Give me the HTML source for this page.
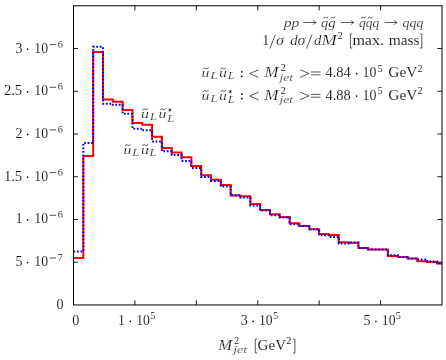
<!DOCTYPE html>
<html><head><meta charset="utf-8"><title>plot</title>
<style>
html,body{margin:0;padding:0;background:#fff;}
svg{display:block;}
text{font-family:"Liberation Serif",serif;fill:#111;stroke:#fff;stroke-width:0.1px;}
</style></head><body>
<svg width="446" height="360" viewBox="0 0 446 360">
<rect x="0" y="0" width="446" height="360" fill="#fff"/>
<path d="M73.50 257.90 L83.32 257.90 L83.32 156.10 L93.15 156.10 L93.15 51.95 L102.97 51.95 L102.97 99.50 L112.80 99.50 L112.80 101.80 L122.62 101.80 L122.62 110.00 L132.44 110.00 L132.44 122.90 L142.27 122.90 L142.27 124.70 L152.09 124.70 L152.09 136.70 L161.92 136.70 L161.92 148.00 L171.74 148.00 L171.74 152.60 L181.56 152.60 L181.56 157.30 L191.39 157.30 L191.39 166.10 L201.21 166.10 L201.21 175.30 L211.04 175.30 L211.04 179.80 L220.86 179.80 L220.86 184.90 L230.68 184.90 L230.68 195.40 L240.51 195.40 L240.51 196.30 L250.33 196.30 L250.33 204.00 L260.16 204.00 L260.16 209.90 L269.98 209.90 L269.98 214.30 L279.80 214.30 L279.80 216.90 L289.63 216.90 L289.63 223.30 L299.45 223.30 L299.45 225.90 L309.28 225.90 L309.28 229.20 L319.10 229.20 L319.10 233.90 L328.92 233.90 L328.92 235.00 L338.75 235.00 L338.75 242.30 L348.57 242.30 L348.57 242.80 L358.40 242.80 L358.40 247.90 L368.22 247.90 L368.22 249.60 L378.04 249.60 L378.04 249.60 L387.87 249.60 L387.87 255.90 L397.69 255.90 L397.69 256.90 L407.52 256.90 L407.52 258.60 L417.34 258.60 L417.34 261.20 L427.16 261.20 L427.16 261.90 L436.99 261.90 L436.99 263.50 L442.00 263.50" fill="none" stroke="#ff0000" stroke-width="2" stroke-linejoin="miter"/>
<path d="M73.50 251.50 L83.32 251.50 L83.32 143.10 L93.15 143.10 L93.15 46.80 L102.97 46.80 L102.97 103.70 L112.80 103.70 L112.80 104.80 L122.62 104.80 L122.62 113.70 L132.44 113.70 L132.44 128.70 L142.27 128.70 L142.27 130.30 L152.09 130.30 L152.09 141.50 L161.92 141.50 L161.92 151.30 L171.74 151.30 L171.74 154.90 L181.56 154.90 L181.56 161.00 L191.39 161.00 L191.39 168.10 L201.21 168.10 L201.21 177.00 L211.04 177.00 L211.04 181.10 L220.86 181.10 L220.86 186.60 L230.68 186.60 L230.68 195.30 L240.51 195.30 L240.51 197.40 L250.33 197.40 L250.33 205.40 L260.16 205.40 L260.16 210.60 L269.98 210.60 L269.98 215.30 L279.80 215.30 L279.80 217.60 L289.63 217.60 L289.63 224.30 L299.45 224.30 L299.45 225.90 L309.28 225.90 L309.28 229.20 L319.10 229.20 L319.10 235.30 L328.92 235.30 L328.92 236.90 L338.75 236.90 L338.75 243.40 L348.57 243.40 L348.57 242.50 L358.40 242.50 L358.40 247.90 L368.22 247.90 L368.22 249.60 L378.04 249.60 L378.04 249.60 L387.87 249.60 L387.87 255.20 L397.69 255.20 L397.69 256.90 L407.52 256.90 L407.52 258.60 L417.34 258.60 L417.34 259.50 L427.16 259.50 L427.16 261.50 L436.99 261.50 L436.99 263.30 L442.00 263.30" fill="none" stroke="#0000ff" stroke-width="2" stroke-dasharray="1.75 1.75" stroke-linejoin="miter"/>
<path d="M134.92 304.95 v-4.6 M134.92 5.80 v4.6 M196.33 304.95 v-4.6 M196.33 5.80 v4.6 M257.75 304.95 v-4.6 M257.75 5.80 v4.6 M319.17 304.95 v-4.6 M319.17 5.80 v4.6 M380.58 304.95 v-4.6 M380.58 5.80 v4.6 M73.50 262.21 h4.6 M442.00 262.21 h-4.6 M73.50 219.48 h4.6 M442.00 219.48 h-4.6 M73.50 176.74 h4.6 M442.00 176.74 h-4.6 M73.50 134.01 h4.6 M442.00 134.01 h-4.6 M73.50 91.27 h4.6 M442.00 91.27 h-4.6 M73.50 48.54 h4.6 M442.00 48.54 h-4.6" fill="none" stroke="#000" stroke-width="0.9"/>
<rect x="73.50" y="5.80" width="368.50" height="299.15" fill="none" stroke="#000" stroke-width="1"/>
<g style="filter:grayscale(1)">
<text x="15.40" y="52.60" font-size="14.00" text-anchor="start">3</text>
<circle cx="27.60" cy="49.10" r="0.85" fill="#111"/>
<text x="34.30" y="52.60" font-size="14.00" textLength="13.70" lengthAdjust="spacingAndGlyphs" text-anchor="start">10</text>
<line x1="49.50" y1="44.60" x2="56.20" y2="44.60" stroke="#111" stroke-width="0.70"/>
<text x="57.70" y="47.60" font-size="10.20" text-anchor="start">6</text>
<text x="3.90" y="95.30" font-size="14.00" textLength="18.30" lengthAdjust="spacingAndGlyphs" text-anchor="start">2.5</text>
<circle cx="27.60" cy="91.80" r="0.85" fill="#111"/>
<text x="34.30" y="95.30" font-size="14.00" textLength="13.70" lengthAdjust="spacingAndGlyphs" text-anchor="start">10</text>
<line x1="49.50" y1="87.30" x2="56.20" y2="87.30" stroke="#111" stroke-width="0.70"/>
<text x="57.70" y="90.30" font-size="10.20" text-anchor="start">6</text>
<text x="15.40" y="137.90" font-size="14.00" text-anchor="start">2</text>
<circle cx="27.60" cy="134.40" r="0.85" fill="#111"/>
<text x="34.30" y="137.90" font-size="14.00" textLength="13.70" lengthAdjust="spacingAndGlyphs" text-anchor="start">10</text>
<line x1="49.50" y1="129.90" x2="56.20" y2="129.90" stroke="#111" stroke-width="0.70"/>
<text x="57.70" y="132.90" font-size="10.20" text-anchor="start">6</text>
<text x="3.90" y="180.60" font-size="14.00" textLength="18.30" lengthAdjust="spacingAndGlyphs" text-anchor="start">1.5</text>
<circle cx="27.60" cy="177.10" r="0.85" fill="#111"/>
<text x="34.30" y="180.60" font-size="14.00" textLength="13.70" lengthAdjust="spacingAndGlyphs" text-anchor="start">10</text>
<line x1="49.50" y1="172.60" x2="56.20" y2="172.60" stroke="#111" stroke-width="0.70"/>
<text x="57.70" y="175.60" font-size="10.20" text-anchor="start">6</text>
<text x="15.40" y="223.30" font-size="14.00" text-anchor="start">1</text>
<circle cx="27.60" cy="219.80" r="0.85" fill="#111"/>
<text x="34.30" y="223.30" font-size="14.00" textLength="13.70" lengthAdjust="spacingAndGlyphs" text-anchor="start">10</text>
<line x1="49.50" y1="215.30" x2="56.20" y2="215.30" stroke="#111" stroke-width="0.70"/>
<text x="57.70" y="218.30" font-size="10.20" text-anchor="start">6</text>
<text x="15.40" y="266.00" font-size="14.00" text-anchor="start">5</text>
<circle cx="27.60" cy="262.50" r="0.85" fill="#111"/>
<text x="34.30" y="266.00" font-size="14.00" textLength="13.70" lengthAdjust="spacingAndGlyphs" text-anchor="start">10</text>
<line x1="49.50" y1="258.00" x2="56.20" y2="258.00" stroke="#111" stroke-width="0.70"/>
<text x="57.70" y="261.00" font-size="10.20" text-anchor="start">7</text>
<text x="56.40" y="308.70" font-size="14.00" text-anchor="start">0</text>
<text x="72.20" y="324.80" font-size="14.00" text-anchor="start">0</text>
<text x="117.90" y="324.80" font-size="14.00" text-anchor="start">1</text>
<circle cx="130.30" cy="321.30" r="0.85" fill="#111"/>
<text x="136.20" y="324.80" font-size="14.00" textLength="13.70" lengthAdjust="spacingAndGlyphs" text-anchor="start">10</text>
<text x="150.20" y="319.30" font-size="10.20" text-anchor="start">5</text>
<text x="240.70" y="324.80" font-size="14.00" text-anchor="start">3</text>
<circle cx="253.10" cy="321.30" r="0.85" fill="#111"/>
<text x="259.00" y="324.80" font-size="14.00" textLength="13.70" lengthAdjust="spacingAndGlyphs" text-anchor="start">10</text>
<text x="273.00" y="319.30" font-size="10.20" text-anchor="start">5</text>
<text x="363.50" y="324.80" font-size="14.00" text-anchor="start">5</text>
<circle cx="375.90" cy="321.30" r="0.85" fill="#111"/>
<text x="381.80" y="324.80" font-size="14.00" textLength="13.70" lengthAdjust="spacingAndGlyphs" text-anchor="start">10</text>
<text x="395.80" y="319.30" font-size="10.20" text-anchor="start">5</text>
<text x="218.30" y="349.60" font-size="14.00" font-style="italic" style="stroke-width:0.2px" textLength="13.90" lengthAdjust="spacingAndGlyphs" text-anchor="start">M</text>
<text x="233.90" y="344.40" font-size="10.20" text-anchor="start">2</text>
<text x="233.20" y="352.50" font-size="9.30" font-style="italic" style="stroke-width:0.2px" textLength="14.10" lengthAdjust="spacingAndGlyphs" text-anchor="start">jet</text>
<path d="M257.2 339.1 h-1.9 v13.8 h1.9" fill="none" stroke="#111" stroke-width="0.7"/>
<text x="257.60" y="349.60" font-size="14.00" textLength="28.40" lengthAdjust="spacingAndGlyphs" text-anchor="start">GeV</text>
<text x="286.20" y="344.40" font-size="10.20" text-anchor="start">2</text>
<path d="M293.0 339.1 h1.9 v13.8 h-1.9" fill="none" stroke="#111" stroke-width="0.7"/>
<text x="283.70" y="27.30" font-size="13.40" font-style="italic" style="stroke-width:0.2px" textLength="15.80" lengthAdjust="spacingAndGlyphs" text-anchor="start">pp</text>
<line x1="303.10" y1="22.50" x2="315.80" y2="22.50" stroke="#111" stroke-width="0.65"/>
<path d="M313.30 20.20 Q314.30 22.10 316.30 22.50 Q314.30 22.90 313.30 24.80" fill="none" stroke="#111" stroke-width="0.65"/>
<text x="321.00" y="27.30" font-size="13.40" font-style="italic" style="stroke-width:0.2px" textLength="7.20" lengthAdjust="spacingAndGlyphs" text-anchor="start">q</text>
<path d="M323.80 18.20 C324.40 16.65 325.20 17.15 325.80 17.60 S327.20 18.55 327.80 17.00" fill="none" stroke="#111" stroke-width="0.7" stroke-linecap="round"/>
<text x="328.20" y="27.30" font-size="13.40" font-style="italic" style="stroke-width:0.2px" textLength="7.40" lengthAdjust="spacingAndGlyphs" text-anchor="start">g</text>
<path d="M330.80 18.20 C331.40 16.65 332.20 17.15 332.80 17.60 S334.20 18.55 334.80 17.00" fill="none" stroke="#111" stroke-width="0.7" stroke-linecap="round"/>
<line x1="341.00" y1="22.50" x2="353.50" y2="22.50" stroke="#111" stroke-width="0.65"/>
<path d="M351.00 20.20 Q352.00 22.10 354.00 22.50 Q352.00 22.90 351.00 24.80" fill="none" stroke="#111" stroke-width="0.65"/>
<text x="358.90" y="27.30" font-size="13.40" font-style="italic" style="stroke-width:0.2px" textLength="6.80" lengthAdjust="spacingAndGlyphs" text-anchor="start">q</text>
<path d="M361.40 18.20 C362.00 16.65 362.80 17.15 363.40 17.60 S364.80 18.55 365.40 17.00" fill="none" stroke="#111" stroke-width="0.7" stroke-linecap="round"/>
<text x="365.70" y="27.30" font-size="13.40" font-style="italic" style="stroke-width:0.2px" textLength="6.80" lengthAdjust="spacingAndGlyphs" text-anchor="start">q</text>
<path d="M368.20 18.20 C368.80 16.65 369.60 17.15 370.20 17.60 S371.60 18.55 372.20 17.00" fill="none" stroke="#111" stroke-width="0.7" stroke-linecap="round"/>
<text x="372.50" y="27.30" font-size="13.40" font-style="italic" style="stroke-width:0.2px" textLength="6.80" lengthAdjust="spacingAndGlyphs" text-anchor="start">q</text>
<line x1="384.50" y1="22.50" x2="396.60" y2="22.50" stroke="#111" stroke-width="0.65"/>
<path d="M394.10 20.20 Q395.10 22.10 397.10 22.50 Q395.10 22.90 394.10 24.80" fill="none" stroke="#111" stroke-width="0.65"/>
<text x="402.60" y="27.30" font-size="13.40" font-style="italic" style="stroke-width:0.2px" textLength="20.70" lengthAdjust="spacingAndGlyphs" text-anchor="start">qqq</text>
<text x="262.20" y="45.30" font-size="14.00" text-anchor="start">1</text>
<line x1="269.9" y1="48.5" x2="275.3" y2="34.6" stroke="#111" stroke-width="0.7"/>
<text x="276.00" y="45.30" font-size="14.00" font-style="italic" style="stroke-width:0.2px" textLength="8.00" lengthAdjust="spacingAndGlyphs" text-anchor="start">σ</text>
<text x="290.20" y="45.30" font-size="14.00" font-style="italic" style="stroke-width:0.2px" textLength="7.40" lengthAdjust="spacingAndGlyphs" text-anchor="start">d</text>
<text x="297.60" y="45.30" font-size="14.00" font-style="italic" style="stroke-width:0.2px" textLength="8.00" lengthAdjust="spacingAndGlyphs" text-anchor="start">σ</text>
<line x1="306.6" y1="48.5" x2="312.0" y2="34.6" stroke="#111" stroke-width="0.7"/>
<text x="314.00" y="45.30" font-size="14.00" font-style="italic" style="stroke-width:0.2px" textLength="7.40" lengthAdjust="spacingAndGlyphs" text-anchor="start">d</text>
<text x="321.40" y="45.30" font-size="14.00" font-style="italic" style="stroke-width:0.2px" textLength="15.40" lengthAdjust="spacingAndGlyphs" text-anchor="start">M</text>
<text x="337.70" y="39.20" font-size="10.20" text-anchor="start">2</text>
<path d="M352.30 34.00 h-1.90 v14.00 h1.90" fill="none" stroke="#111" stroke-width="0.7"/>
<text x="352.40" y="45.30" font-size="14.00" textLength="31.60" lengthAdjust="spacingAndGlyphs" text-anchor="start">max.</text>
<text x="388.70" y="45.30" font-size="14.00" textLength="30.90" lengthAdjust="spacingAndGlyphs" text-anchor="start">mass</text>
<path d="M419.90 34.00 h1.90 v14.00 h-1.90" fill="none" stroke="#111" stroke-width="0.7"/>
<text x="201.60" y="77.20" font-size="13.20" font-style="italic" style="stroke-width:0.2px" textLength="7.90" lengthAdjust="spacingAndGlyphs" text-anchor="start">u</text>
<path d="M203.30 69.10 C204.05 67.55 205.05 68.05 205.80 68.50 S207.55 69.45 208.30 67.90" fill="none" stroke="#111" stroke-width="0.7" stroke-linecap="round"/>
<text x="210.40" y="79.10" font-size="10.20" font-style="italic" style="stroke-width:0.2px" textLength="7.00" lengthAdjust="spacingAndGlyphs" text-anchor="start">L</text>
<text x="219.10" y="77.20" font-size="13.20" font-style="italic" style="stroke-width:0.2px" textLength="7.90" lengthAdjust="spacingAndGlyphs" text-anchor="start">u</text>
<path d="M220.80 69.10 C221.55 67.55 222.55 68.05 223.30 68.50 S225.05 69.45 225.80 67.90" fill="none" stroke="#111" stroke-width="0.7" stroke-linecap="round"/>
<text x="227.80" y="79.10" font-size="10.20" font-style="italic" style="stroke-width:0.2px" textLength="7.00" lengthAdjust="spacingAndGlyphs" text-anchor="start">L</text>
<circle cx="241.80" cy="76.30" r="0.90" fill="#111"/>
<circle cx="241.80" cy="71.80" r="0.90" fill="#111"/>
<path d="M258.6 69.80 L249.6 73.60 L258.6 77.40" fill="none" stroke="#111" stroke-width="0.7"/>
<text x="264.40" y="77.20" font-size="14.00" font-style="italic" style="stroke-width:0.2px" textLength="14.00" lengthAdjust="spacingAndGlyphs" text-anchor="start">M</text>
<text x="280.50" y="71.20" font-size="10.80" text-anchor="start">2</text>
<text x="279.40" y="80.50" font-size="9.30" font-style="italic" style="stroke-width:0.2px" textLength="13.60" lengthAdjust="spacingAndGlyphs" text-anchor="start">jet</text>
<path d="M300.2 69.70 L308.9 73.50 L300.2 77.30" fill="none" stroke="#111" stroke-width="0.7"/>
<line x1="311.00" y1="72.00" x2="320.60" y2="72.00" stroke="#111" stroke-width="0.70"/>
<line x1="311.00" y1="74.80" x2="320.60" y2="74.80" stroke="#111" stroke-width="0.70"/>
<text x="325.40" y="77.20" font-size="14.00" textLength="25.40" lengthAdjust="spacingAndGlyphs" text-anchor="start">4.84</text>
<circle cx="356.60" cy="73.70" r="0.85" fill="#111"/>
<text x="362.50" y="77.20" font-size="14.00" textLength="13.90" lengthAdjust="spacingAndGlyphs" text-anchor="start">10</text>
<text x="377.50" y="72.00" font-size="10.20" text-anchor="start">5</text>
<text x="388.30" y="77.20" font-size="14.00" textLength="29.10" lengthAdjust="spacingAndGlyphs" text-anchor="start">GeV</text>
<text x="417.40" y="72.00" font-size="10.20" text-anchor="start">2</text>
<text x="201.60" y="99.60" font-size="13.20" font-style="italic" style="stroke-width:0.2px" textLength="7.90" lengthAdjust="spacingAndGlyphs" text-anchor="start">u</text>
<path d="M203.30 91.50 C204.05 89.95 205.05 90.45 205.80 90.90 S207.55 91.85 208.30 90.30" fill="none" stroke="#111" stroke-width="0.7" stroke-linecap="round"/>
<text x="210.40" y="101.50" font-size="10.20" font-style="italic" style="stroke-width:0.2px" textLength="7.00" lengthAdjust="spacingAndGlyphs" text-anchor="start">L</text>
<text x="219.10" y="99.60" font-size="13.20" font-style="italic" style="stroke-width:0.2px" textLength="7.90" lengthAdjust="spacingAndGlyphs" text-anchor="start">u</text>
<path d="M220.80 91.50 C221.55 89.95 222.55 90.45 223.30 90.90 S225.05 91.85 225.80 90.30" fill="none" stroke="#111" stroke-width="0.7" stroke-linecap="round"/>
<text x="227.80" y="103.30" font-size="10.20" font-style="italic" style="stroke-width:0.2px" textLength="7.00" lengthAdjust="spacingAndGlyphs" text-anchor="start">L</text>
<line x1="230.40" y1="90.00" x2="230.40" y2="93.20" stroke="#111" stroke-width="0.7"/>
<line x1="231.79" y1="90.80" x2="229.01" y2="92.40" stroke="#111" stroke-width="0.7"/>
<line x1="231.79" y1="92.40" x2="229.01" y2="90.80" stroke="#111" stroke-width="0.7"/>
<circle cx="241.80" cy="98.70" r="0.90" fill="#111"/>
<circle cx="241.80" cy="94.20" r="0.90" fill="#111"/>
<path d="M258.6 92.20 L249.6 96.00 L258.6 99.80" fill="none" stroke="#111" stroke-width="0.7"/>
<text x="264.40" y="99.60" font-size="14.00" font-style="italic" style="stroke-width:0.2px" textLength="14.00" lengthAdjust="spacingAndGlyphs" text-anchor="start">M</text>
<text x="280.50" y="93.60" font-size="10.80" text-anchor="start">2</text>
<text x="279.40" y="102.90" font-size="9.30" font-style="italic" style="stroke-width:0.2px" textLength="13.60" lengthAdjust="spacingAndGlyphs" text-anchor="start">jet</text>
<path d="M300.2 92.10 L308.9 95.90 L300.2 99.70" fill="none" stroke="#111" stroke-width="0.7"/>
<line x1="311.00" y1="94.40" x2="320.60" y2="94.40" stroke="#111" stroke-width="0.70"/>
<line x1="311.00" y1="97.20" x2="320.60" y2="97.20" stroke="#111" stroke-width="0.70"/>
<text x="325.40" y="99.60" font-size="14.00" textLength="25.40" lengthAdjust="spacingAndGlyphs" text-anchor="start">4.88</text>
<circle cx="356.60" cy="96.10" r="0.85" fill="#111"/>
<text x="362.50" y="99.60" font-size="14.00" textLength="13.90" lengthAdjust="spacingAndGlyphs" text-anchor="start">10</text>
<text x="377.50" y="94.40" font-size="10.20" text-anchor="start">5</text>
<text x="388.30" y="99.60" font-size="14.00" textLength="29.10" lengthAdjust="spacingAndGlyphs" text-anchor="start">GeV</text>
<text x="417.40" y="94.40" font-size="10.20" text-anchor="start">2</text>
<text x="141.10" y="118.00" font-size="13.20" font-style="italic" style="stroke-width:0.2px" textLength="7.90" lengthAdjust="spacingAndGlyphs" text-anchor="start">u</text>
<path d="M142.80 109.90 C143.55 108.35 144.55 108.85 145.30 109.30 S147.05 110.25 147.80 108.70" fill="none" stroke="#111" stroke-width="0.7" stroke-linecap="round"/>
<text x="149.90" y="119.90" font-size="10.20" font-style="italic" style="stroke-width:0.2px" textLength="7.00" lengthAdjust="spacingAndGlyphs" text-anchor="start">L</text>
<text x="158.60" y="118.00" font-size="13.20" font-style="italic" style="stroke-width:0.2px" textLength="7.90" lengthAdjust="spacingAndGlyphs" text-anchor="start">u</text>
<path d="M160.30 109.90 C161.05 108.35 162.05 108.85 162.80 109.30 S164.55 110.25 165.30 108.70" fill="none" stroke="#111" stroke-width="0.7" stroke-linecap="round"/>
<text x="167.30" y="121.70" font-size="10.20" font-style="italic" style="stroke-width:0.2px" textLength="7.00" lengthAdjust="spacingAndGlyphs" text-anchor="start">L</text>
<line x1="169.90" y1="108.40" x2="169.90" y2="111.60" stroke="#111" stroke-width="0.7"/>
<line x1="171.29" y1="109.20" x2="168.51" y2="110.80" stroke="#111" stroke-width="0.7"/>
<line x1="171.29" y1="110.80" x2="168.51" y2="109.20" stroke="#111" stroke-width="0.7"/>
<text x="123.40" y="153.80" font-size="13.20" font-style="italic" style="stroke-width:0.2px" textLength="7.90" lengthAdjust="spacingAndGlyphs" text-anchor="start">u</text>
<path d="M125.10 145.70 C125.85 144.15 126.85 144.65 127.60 145.10 S129.35 146.05 130.10 144.50" fill="none" stroke="#111" stroke-width="0.7" stroke-linecap="round"/>
<text x="132.20" y="155.70" font-size="10.20" font-style="italic" style="stroke-width:0.2px" textLength="7.00" lengthAdjust="spacingAndGlyphs" text-anchor="start">L</text>
<text x="140.90" y="153.80" font-size="13.20" font-style="italic" style="stroke-width:0.2px" textLength="7.90" lengthAdjust="spacingAndGlyphs" text-anchor="start">u</text>
<path d="M142.60 145.70 C143.35 144.15 144.35 144.65 145.10 145.10 S146.85 146.05 147.60 144.50" fill="none" stroke="#111" stroke-width="0.7" stroke-linecap="round"/>
<text x="149.60" y="155.70" font-size="10.20" font-style="italic" style="stroke-width:0.2px" textLength="7.00" lengthAdjust="spacingAndGlyphs" text-anchor="start">L</text>
</g>
</svg>
</body></html>
